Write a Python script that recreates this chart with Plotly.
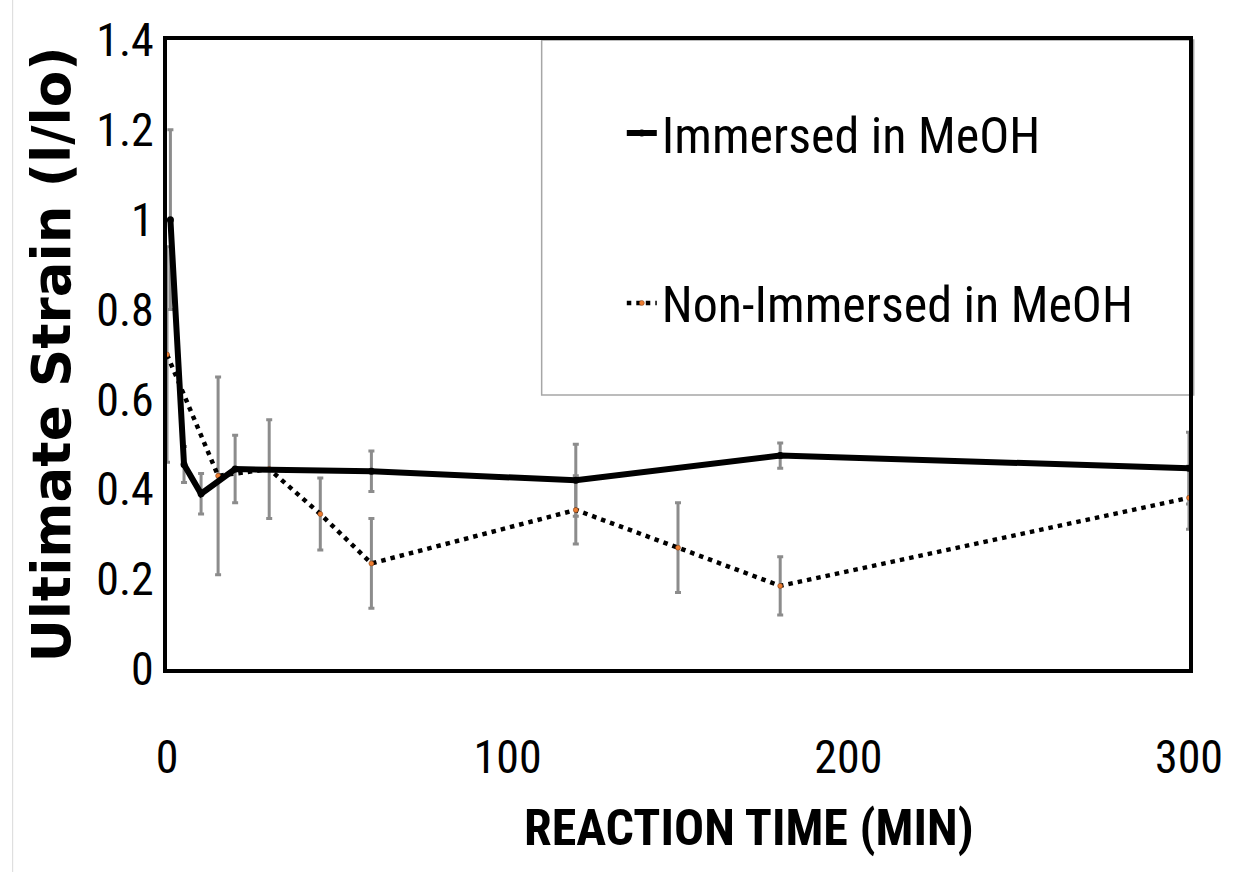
import plotly.graph_objects as go

# ---- data ----
immersed_time = [1, 5, 10, 20, 60, 120, 180, 300]
immersed_strain = [1.00, 0.455, 0.39, 0.445, 0.44, 0.42, 0.475, 0.447]
immersed_err = [0.20, 0.04, 0.045, 0.075, 0.045, 0.08, 0.028, 0.08]

non_immersed_time = [0, 15, 30, 45, 60, 120, 150, 180, 300]
non_immersed_strain = [0.70, 0.43, 0.445, 0.345, 0.235, 0.354, 0.27, 0.185, 0.381]
non_immersed_err = [0.24, 0.22, 0.11, 0.08, 0.10, 0.076, 0.10, 0.065, 0.07]

x_ticks = [0, 100, 200, 300]
y_ticks = [0, 0.2, 0.4, 0.6, 0.8, 1.0, 1.2, 1.4]
y_tick_text = ["0", "0.2", "0.4", "0.6", "0.8", "1", "1.2", "1.4"]

series_names = ["Immersed in MeOH", "Non-Immersed in MeOH"]
x_title = "REACTION TIME (MIN)"
y_title = "Ultimate Strain (l/lo)"

NARROW = "Liberation Sans Narrow, Arial Narrow, Roboto Condensed, Roboto, sans-serif"
ERR_COLOR = "#8c8c8c"

fig = go.Figure()

# error bars first (below the lines)
fig.add_trace(go.Scatter(
    x=immersed_time, y=immersed_strain, mode="markers",
    marker=dict(size=1, opacity=0),
    error_y=dict(type="data", array=immersed_err, color=ERR_COLOR, thickness=3, width=3),
    showlegend=False, hoverinfo="skip", cliponaxis=False))
fig.add_trace(go.Scatter(
    x=non_immersed_time, y=non_immersed_strain, mode="markers",
    marker=dict(size=1, opacity=0),
    error_y=dict(type="data", array=non_immersed_err, color=ERR_COLOR, thickness=3, width=3),
    showlegend=False, hoverinfo="skip", cliponaxis=False))

fig.add_trace(go.Scatter(
    x=non_immersed_time, y=non_immersed_strain, mode="lines+markers",
    name=series_names[1], legend="legend2",
    line=dict(color="black", width=4.5, dash="4.5px,5px"),
    marker=dict(size=5, color="#ED7D31", line=dict(color="#7a3a10", width=0.5)),
    cliponaxis=False))
fig.add_trace(go.Scatter(
    x=immersed_time, y=immersed_strain, mode="lines+markers",
    name=series_names[0], legend="legend",
    line=dict(color="black", width=6),
    marker=dict(size=7, color="black"),
    cliponaxis=False))

# legend frame
fig.add_shape(type="rect", xref="paper", yref="paper",
              x0=0.3666, x1=1.0046, y0=0.4356, y1=1.0,
              line=dict(color="#a6a6a6", width=1.5), fillcolor="rgba(0,0,0,0)", layer="below")
# thin page edge line at far left
fig.add_shape(type="line", xref="paper", yref="paper",
              x0=-0.151, x1=-0.151, y0=-0.3227, y1=1.0636,
              line=dict(color="#d9d9d9", width=1))

# x-axis title (sits right of the plot centre in the reference)
fig.add_annotation(text="<b>" + x_title + "</b>", xref="paper", yref="paper",
                   x=0.569, y=-0.253, xanchor="center", yanchor="middle",
                   showarrow=False, font=dict(family=NARROW, size=50, color="black"))

fig.update_layout(
    width=1235, height=872,
    margin=dict(l=167, r=42, t=40, b=203),
    paper_bgcolor="white", plot_bgcolor="white",
    font=dict(family=NARROW, color="black"),
    legend=dict(x=0.445, y=0.852, xanchor="left", yanchor="middle",
                font=dict(family=NARROW, size=50, color="black"),
                bgcolor="rgba(0,0,0,0)", borderwidth=0, itemwidth=30),
    legend2=dict(x=0.445, y=0.582, xanchor="left", yanchor="middle",
                 font=dict(family=NARROW, size=50, color="black"),
                 bgcolor="rgba(0,0,0,0)", borderwidth=0, itemwidth=30),
    xaxis=dict(range=[0, 300], tickvals=x_ticks, ticktext=[str(v) for v in x_ticks],
               showgrid=False, zeroline=False,
               showline=True, linecolor="black", linewidth=4, mirror=True,
               ticks="", ticklabelstandoff=45,
               tickfont=dict(family=NARROW, size=46, color="black")),
    yaxis=dict(range=[0, 1.4], tickvals=y_ticks, ticktext=y_tick_text,
               showgrid=False, zeroline=False,
               showline=True, linecolor="black", linewidth=4, mirror=True,
               ticks="", ticklabelstandoff=0,
               tickfont=dict(family=NARROW, size=46, color="black"),
               title=dict(text="<b>" + y_title + "</b>",
                          font=dict(family="DejaVu Sans", size=53, color="black"), standoff=10)),
)

fig.write_html("out.html")
